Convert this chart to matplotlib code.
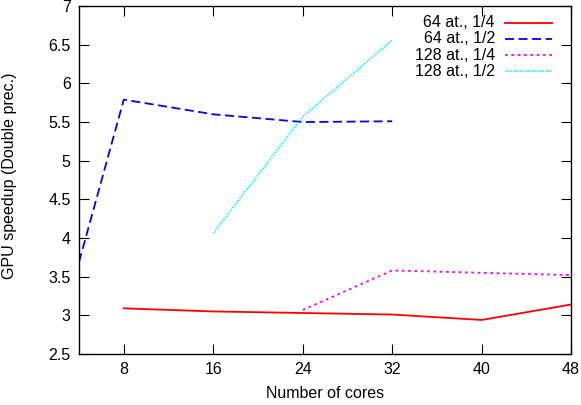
import matplotlib
matplotlib.use("Agg")
import matplotlib.pyplot as plt
import numpy as np

plt.rcParams['font.family'] = ['Liberation Sans', 'DejaVu Sans']
plt.rcParams['font.size'] = 11.5

# speedup data
x_64_q = [8, 16, 24, 32, 40, 48]
y_64_q = [3.09, 3.05, 3.03, 3.01, 2.94, 3.14]
x_64_h = [4, 8, 16, 24, 32]
y_64_h = [3.69, 5.79, 5.60, 5.50, 5.51]
x_128_q = [24, 32, 40, 48]
y_128_q = [3.07, 3.58, 3.55, 3.52]
x_128_h = [16, 24, 32]
y_128_h = [4.06, 5.57, 6.56]

labels = ["64 at., 1/4", "64 at., 1/2", "128 at., 1/4", "128 at., 1/2"]
xticks = [8, 16, 24, 32, 40, 48]
yticks = np.arange(2.5, 7.01, 0.5)

fig = plt.figure(figsize=(5.81, 4.05), dpi=100)
ax = fig.add_axes([0.136, 0.126, 0.847, 0.859])

styles = [
    dict(color='#ff0000', ls='-'),
    dict(color='#0000ff', ls=(0, (5, 2.5))),
    dict(color='#ff00ff', ls=(0, (1.5, 2))),
    dict(color='#00ffff', ls=(0, (0.8, 0.8))),
]
series = [(x_64_q, y_64_q), (x_64_h, y_64_h), (x_128_q, y_128_q), (x_128_h, y_128_h)]

for (xs, ys), st in zip(series, styles):
    ax.plot(xs, ys, lw=1.3, **st)

# gnuplot-style key: right-aligned text, sample on the right
for i, (lab, st) in enumerate(zip(labels, styles)):
    yy = 0.952 - i * 0.0466
    ax.text(0.845, yy, lab, transform=ax.transAxes, ha='right', va='center')
    ax.plot([0.866, 0.961], [yy, yy], transform=ax.transAxes, lw=1.3, **st)

ax.set_xlim(4, 48)
ax.set_ylim(2.5, 7)
ax.set_xticks(xticks)
ax.set_yticks(yticks)
ax.set_yticklabels([f"{v:g}" for v in yticks])
ax.tick_params(direction='in', length=7, width=0.8, top=True, right=True, pad=6)
for s in ax.spines.values():
    s.set_linewidth(1.0)

ax.set_xlabel("Number of cores", labelpad=6)
ax.set_ylabel("GPU speedup (Double prec.)")
ax.yaxis.set_label_coords(-0.126, 0.511)

fig.savefig("out.png", dpi=100)
